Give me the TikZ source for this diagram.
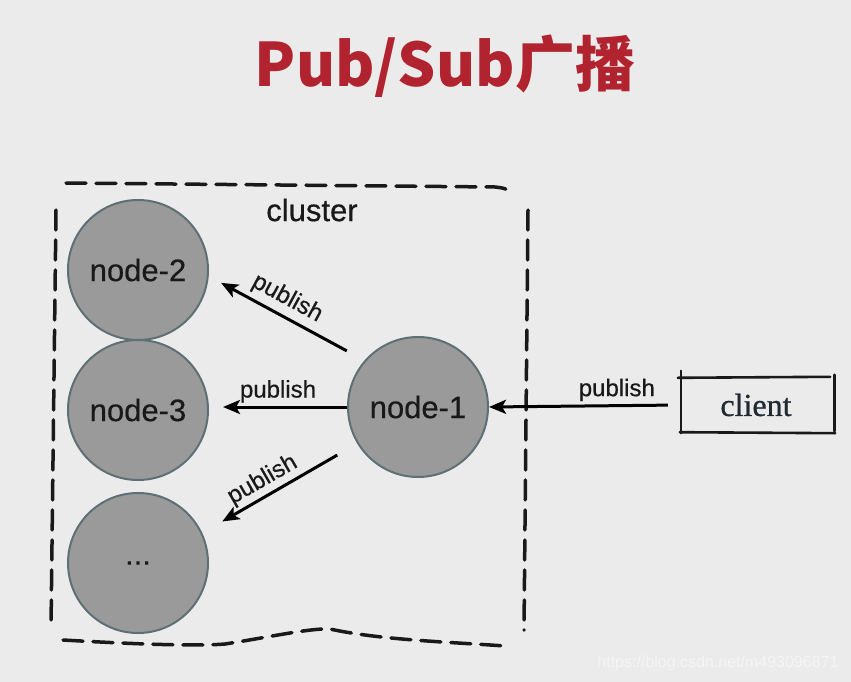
\documentclass[tikz,border=0pt]{standalone}
\usepackage{fontspec}
\usetikzlibrary{arrows.meta}
\newfontfamily\lsans{Liberation Sans}[FakeBold=0.5]
\newfontfamily\lsansplain{Liberation Sans}
\newfontfamily\clientfont{Liberation Serif}[FakeBold=0.8]
\newfontfamily\cjkfont{Noto Sans CJK SC}
\definecolor{bgc}{HTML}{EBEBEB}
\definecolor{titlered}{HTML}{B0232F}
\definecolor{circfill}{HTML}{9A9A9A}
\definecolor{circedge}{HTML}{5E7074}
\definecolor{clienttext}{HTML}{1F2A33}
\tikzset{
  srv/.style={circle, minimum size=140pt, inner sep=0pt, fill=circfill, draw=circedge, line width=2pt,
    font=\lsans\fontsize{31}{31}\selectfont, text=black!90},
  arr/.style={line width=3pt, -{Stealth[length=17pt,width=14pt,inset=4pt]}},
  lbl/.style={font=\lsans\fontsize{24}{24}\selectfont, text=black!90, inner sep=3pt},
  cdash/.style={line width=3.5pt, dash pattern=on 20pt off 10pt, line cap=round, black!90},
  hand/.style={line width=2.6pt, black!90, line cap=round},
}
\begin{document}
\begin{tikzpicture}[x=1pt,y=-1pt]
\fill[bgc] (0,0) rectangle (851,682);
\useasboundingbox (0,0) rectangle (851,682);
% title
\node[font=\cjkfont\bfseries\fontsize{60}{60}\selectfont, text=titlered] (title) at (445,66) {Pub/Sub广播};
% cluster outline
\draw[cdash] (66,183) -- (495,187) .. controls (503,188) .. (508,190);
\draw[cdash] (56,210) -- (51,628);
\draw[cdash] (528,210) -- (524,630);
\draw[cdash] (63,640) .. controls (150,645) and (200,646) .. (225,644)
   .. controls (270,637) and (310,628) .. (330,629)
   .. controls (380,640) and (450,642) .. (505,646);
\node[font=\lsans\fontsize{31}{31}\selectfont, text=black!90] (cl) at (312,210) {cluster};
% servers
\node[srv] (n2) at (138,270) {node-2};
\node[srv] (n3) at (138,410) {node-3};
\node[srv] (n4) at (138,563) {...};
\node[srv] (n1) at (418,407) {node-1};
% client
\node[minimum width=152pt, minimum height=52pt, inner sep=0pt, font=\clientfont\fontsize{32}{32}\selectfont, text=clienttext] (client) at (756,405) {client};
\draw[hand] ([xshift=-2pt,yshift=1pt]client.north west) -- ([xshift=-2pt,yshift=2pt]client.north east);
\draw[hand] ([xshift=0pt,yshift=-1pt]client.south west) -- ([xshift=3pt,yshift=-2pt]client.south east);
\draw[hand] ([xshift=1pt,yshift=8pt]client.north west) -- ([xshift=1pt,yshift=-2pt]client.south west);
\draw[hand] ([xshift=2pt,yshift=4pt]client.north east) -- ([xshift=2pt,yshift=0pt]client.south east);
% arrows
\draw[arr, shorten <=20pt, shorten >=14pt] (n1.139) -- (n2.-5)
  node[lbl, sloped, above=2pt, pos=0.55] {publish};
\draw[arr, shorten >=14pt] (n1.west) -- (n3.east |- n1.west)
  node[lbl, above, pos=0.5] {publish};
\draw[arr, shorten <=23pt, shorten >=23pt] (n1.211) -- (n4.25)
  node[lbl, sloped, above, pos=0.56] {publish};
\draw[arr, shorten <=12pt] (client.west) -- (n1.east)
  node[lbl, above, pos=0.33] {publish};
% watermark
\node[font=\lsansplain\fontsize{16}{16}\selectfont, text=white!92!gray, anchor=east] (wm) at (842,663) {https://blog.csdn.net/m493096871};
\end{tikzpicture}
\end{document}
